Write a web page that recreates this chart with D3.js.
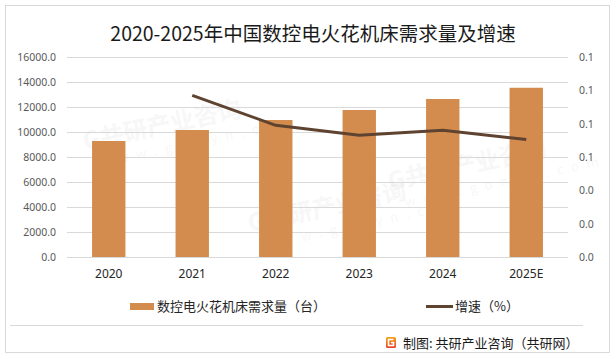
<!DOCTYPE html>
<html>
<head>
<meta charset="utf-8">
<script src="https://cdn.jsdelivr.net/npm/d3@7"></script>
<style>
  body { margin: 0; background: #fff; }
  text { font-family: "Noto Sans CJK SC", "Noto Sans", sans-serif; }
</style>
</head>
<body>
<div id="chart"></div>
<script>
const svgWidth = 616;
const svgHeight = 359;

// data
const years = ["2020", "2021", "2022", "2023", "2024", "2025E"];
const demand = [9280, 10160, 10960, 11760, 12640, 13540];
const growthYears = ["2021", "2022", "2023", "2024", "2025E"];
const growth = [0.097, 0.079, 0.073, 0.076, 0.0705];
const leftTicks = [0, 2000, 4000, 6000, 8000, 10000, 12000, 14000, 16000];
const rightTicks = [0, 0.02, 0.04, 0.06, 0.08, 0.10, 0.12];

const plot = { left: 67, right: 568, top: 57, bottom: 257 };

const svg = d3.select("#chart")
    .append("svg")
    .attr("width", svgWidth)
    .attr("height", svgHeight);

// outer frame
svg.append("rect")
    .attr("x", 5.5).attr("y", 5.5)
    .attr("width", 604).attr("height", 347)
    .attr("fill", "#fff")
    .attr("stroke", "#d9d9d9");

// faint watermarks (behind everything else, kept inside the frame)
const marks = [[85, 150], [390, 190], [250, 232]];
const wm = svg.append("g").attr("pointer-events", "none");
marks.forEach(function(p) {
    const g = wm.append("g")
        .attr("transform", `translate(${p[0]}, ${p[1]}) rotate(-12)`);
    g.append("text")
        .attr("font-size", "24px")
        .attr("font-weight", "bold")
        .attr("fill", "#9a9a9a")
        .attr("opacity", 0.07)
        .text("G共研产业咨询");
    g.append("text")
        .attr("x", 12).attr("y", 20)
        .attr("font-size", "13px")
        .attr("letter-spacing", "8px")
        .attr("fill", "#9a9a9a")
        .attr("opacity", 0.07)
        .text("www.gonyn.com");
});

// title
svg.append("text")
    .attr("x", 313).attr("y", 41)
    .attr("text-anchor", "middle")
    .attr("font-size", "19.5px")
    .attr("fill", "#1a1a1a")
    .text("2020-2025年中国数控电火花机床需求量及增速");

// scales
const x = d3.scaleBand()
    .domain(years)
    .range([plot.left, plot.right])
    .paddingInner(0.6)
    .paddingOuter(0.3);

const y = d3.scaleLinear()
    .domain([0, 16000])
    .range([plot.bottom, plot.top]);

const y2 = d3.scaleLinear()
    .domain([0, 0.12])
    .range([plot.bottom, plot.top]);

// gridlines
svg.append("g")
    .selectAll("line")
    .data(leftTicks)
    .enter()
    .append("line")
    .attr("x1", plot.left).attr("x2", plot.right)
    .attr("y1", d => Math.round(y(d)) + 0.5)
    .attr("y2", d => Math.round(y(d)) + 0.5)
    .attr("stroke", "#d9d9d9");

// left axis
const leftAxis = svg.append("g")
    .attr("transform", `translate(${plot.left - 11}, 0)`)
    .call(d3.axisLeft(y).tickValues(leftTicks).tickFormat(d3.format(".1f")).tickSize(0).tickPadding(0));
leftAxis.select(".domain").remove();
leftAxis.selectAll("text")
    .attr("font-size", "10.5px")
    .attr("fill", "#595959")
    .style("font-family", "'Noto Sans', sans-serif");

// right axis
const rightAxis = svg.append("g")
    .attr("transform", `translate(${plot.right + 11}, 0)`)
    .call(d3.axisRight(y2).tickValues(rightTicks).tickFormat(d3.format(".1f")).tickSize(0).tickPadding(0));
rightAxis.select(".domain").remove();
rightAxis.selectAll("text")
    .attr("font-size", "10.5px")
    .attr("fill", "#595959")
    .style("font-family", "'Noto Sans', sans-serif");

// bottom axis labels
const bottomAxis = svg.append("g")
    .attr("transform", `translate(0, ${plot.bottom + 12})`)
    .call(d3.axisBottom(x).tickSize(0).tickPadding(0));
bottomAxis.select(".domain").remove();
bottomAxis.selectAll("text")
    .attr("font-size", "12px")
    .attr("fill", "#262626")
    .style("font-family", "'Noto Sans', sans-serif");

// bars
svg.append("g")
    .selectAll("rect")
    .data(demand)
    .enter()
    .append("rect")
    .attr("x", (d, i) => x(years[i]))
    .attr("y", d => y(d))
    .attr("width", x.bandwidth())
    .attr("height", d => y(0) - y(d))
    .attr("fill", "#d48c4e");

// growth line
const line = d3.line()
    .x((d, i) => x(growthYears[i]) + x.bandwidth() / 2)
    .y(d => y2(d));

svg.append("path")
    .datum(growth)
    .attr("d", line)
    .attr("fill", "none")
    .attr("stroke", "#5e4330")
    .attr("stroke-width", 3)
    .attr("stroke-linejoin", "round");

// legend
const legend = svg.append("g");
legend.append("rect")
    .attr("x", 130).attr("y", 303)
    .attr("width", 24).attr("height", 7)
    .attr("fill", "#d48c4e");
legend.append("text")
    .attr("x", 157).attr("y", 311)
    .attr("font-size", "13px")
    .attr("fill", "#262626")
    .text("数控电火花机床需求量（台）");
legend.append("line")
    .attr("x1", 426).attr("x2", 453)
    .attr("y1", 306.5).attr("y2", 306.5)
    .attr("stroke", "#5e4330")
    .attr("stroke-width", 3);
legend.append("text")
    .attr("x", 455).attr("y", 311)
    .attr("font-size", "13px")
    .attr("fill", "#262626")
    .text("增速（%）");

// separator
svg.append("line")
    .attr("x1", 10).attr("x2", 583)
    .attr("y1", 325.5).attr("y2", 325.5)
    .attr("stroke", "#d9d9d9");

// source with logo
const grad = svg.append("defs").append("linearGradient")
    .attr("id", "logoGrad")
    .attr("x1", "0").attr("y1", "0").attr("x2", "0").attr("y2", "1");
grad.append("stop").attr("offset", "0").attr("stop-color", "#f7a21b");
grad.append("stop").attr("offset", "1").attr("stop-color", "#e8412a");

svg.append("rect")
    .attr("x", 386).attr("y", 337)
    .attr("width", 10).attr("height", 11)
    .attr("rx", 1.5)
    .attr("fill", "url(#logoGrad)");
svg.append("path")
    .attr("d", "M393.5,339.5 H388.5 V345.5 H393.5 V342.5 H391")
    .attr("fill", "none")
    .attr("stroke", "#fff")
    .attr("stroke-width", 1.6);

svg.append("text")
    .attr("x", 403).attr("y", 347.5)
    .attr("font-size", "13px")
    .attr("fill", "#1a1a1a")
    .text("制图: 共研产业咨询（共研网）");
</script>
</body>
</html>
